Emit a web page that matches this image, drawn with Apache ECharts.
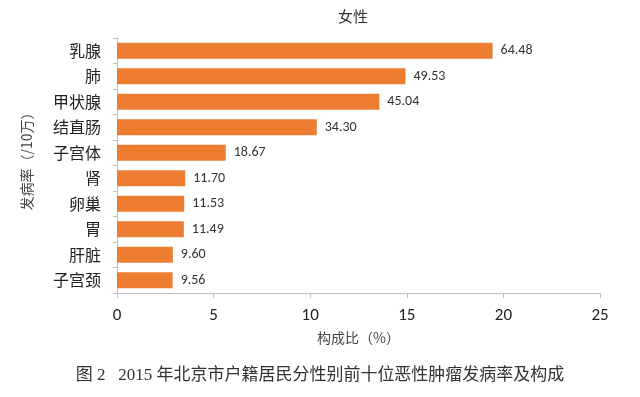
<!DOCTYPE html>
<html>
<head>
<meta charset="utf-8">
<script src="https://cdn.jsdelivr.net/npm/echarts@6/dist/echarts.min.js"></script>
<style>
  html, body { margin: 0; padding: 0; background: #fff; }
  #chart { width: 640px; height: 397px; }
</style>
</head>
<body>
<div id="chart"></div>
<script>
// 女性前十位恶性肿瘤
const sites = ['乳腺', '肺', '甲状腺', '结直肠', '子宫体', '肾', '卵巢', '胃', '肝脏', '子宫颈'];
// 构成比 (%), bar length
const shares = [19.44, 14.93, 13.58, 10.34, 5.63, 3.53, 3.48, 3.46, 2.89, 2.88];
// 发病率 (/10万), printed next to each bar
const rates = ['64.48', '49.53', '45.04', '34.30', '18.67', '11.70', '11.53', '11.49', '9.60', '9.56'];
const xTicks = { min: 0, max: 25, interval: 5 };

const cjk = '"Noto Sans CJK SC", "Noto Sans", sans-serif';
const latin = 'Carlito, "Open Sans", sans-serif';
const axisGray = '#bfbfbf';

const chart = echarts.init(document.getElementById('chart'));
chart.setOption({
  animation: false,
  title: {
    text: '女性',
    left: 333,
    top: 4,
    textStyle: { fontSize: 15, fontWeight: 'normal', color: '#333', fontFamily: cjk }
  },
  grid: { left: 117, right: 40, top: 38, bottom: 104 },
  xAxis: {
    type: 'value',
    min: xTicks.min,
    max: xTicks.max,
    interval: xTicks.interval,
    name: '构成比（%）',
    nameLocation: 'middle',
    nameGap: 38,
    nameTextStyle: { fontSize: 14, color: '#444', fontFamily: cjk },
    axisLine: { show: true, lineStyle: { color: axisGray } },
    axisTick: { show: true, length: 5, lineStyle: { color: axisGray } },
    axisLabel: { fontSize: 17, color: '#222', margin: 14, fontFamily: latin },
    splitLine: { show: false }
  },
  yAxis: {
    type: 'category',
    data: sites,
    inverse: true,
    axisLine: { show: true, lineStyle: { color: axisGray } },
    axisTick: { show: true, length: 4, lineStyle: { color: axisGray } },
    axisLabel: { fontSize: 16, color: '#222', margin: 16, fontFamily: cjk }
  },
  series: [{
    type: 'bar',
    data: shares,
    barWidth: 16,
    itemStyle: { color: '#ED7D31' },
    label: {
      show: true,
      position: 'right',
      distance: 8,
      fontSize: 14,
      color: '#333',
      fontFamily: latin,
      formatter: p => rates[p.dataIndex]
    }
  }],
  graphic: [{
    // y axis title, Excel style, placed beside the axis
    type: 'text',
    x: 27,
    y: 158,
    rotation: Math.PI / 2,
    style: {
      text: '发病率（/10万）',
      font: '14px "Noto Sans CJK SC", sans-serif',
      fill: '#444',
      align: 'center',
      verticalAlign: 'middle'
    }
  }, {
    type: 'text',
    left: 'center',
    top: 367,
    style: {
      text: '图 2   2015 年北京市户籍居民分性别前十位恶性肿瘤发病率及构成',
      font: '17px "Liberation Serif", "Noto Sans CJK SC", serif',
      fill: '#333'
    }
  }]
});
</script>
</body>
</html>
